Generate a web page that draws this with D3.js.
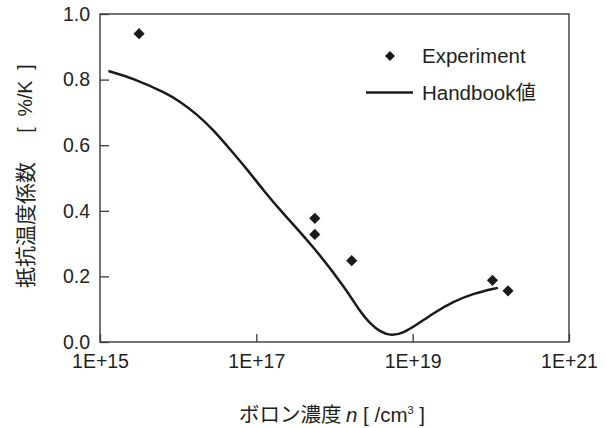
<!DOCTYPE html>
<html>
<head>
<meta charset="utf-8">
<script src="https://cdn.jsdelivr.net/npm/d3@7"></script>
<style>
  html, body { margin: 0; padding: 0; background: #fff; }
  svg { display: block; }
  text { font-family: "Liberation Sans", Arial, sans-serif; fill: #231f20; }
  .cjk { font-family: "Noto Sans CJK JP", "Liberation Sans", sans-serif; }
</style>
</head>
<body>
<svg id="chart" width="607" height="428"></svg>
<script>
// Boron concentration n [/cm^3] and temperature coefficient of resistance [%/K]
const expN   = [3.16e15, 5.6e17, 5.6e17, 1.66e18, 1.05e20, 1.66e20];
const expTCR = [0.94, 0.377, 0.328, 0.248, 0.188, 0.156];

const handbookN = [1.28e15, 2.67e15, 7.13e15, 1.05e16, 1.73e16, 2.81e16, 4.60e16,
                   7.53e16, 1.23e17, 2.01e17, 5.36e17, 1.43e18, 2.12e18, 2.84e18,
                   3.82e18, 5.40e18, 7.59e18, 1.12e19, 1.84e19, 3.31e19, 5.96e19, 1.23e20];
const handbookTCR = [0.826, 0.804, 0.758, 0.733, 0.695, 0.647, 0.588,
                     0.528, 0.463, 0.402, 0.292, 0.159, 0.092, 0.057,
                     0.031, 0.018, 0.028, 0.052, 0.088, 0.123, 0.148, 0.165];

const xTicks = [1e15, 1e17, 1e19, 1e21];
const yTicks = [0, 0.2, 0.4, 0.6, 0.8, 1.0];
const legendLabels = ["Experiment", "Handbook値"];

const svg = d3.select("#chart");
const plotL = 100, plotR = 569, plotT = 14, plotB = 342;
const ink = "#231f20";
const latin = "Liberation Sans, Arial, sans-serif";

const x = d3.scaleLog().domain([1e15, 1e21]).range([plotL, plotR]);
const y = d3.scaleLinear().domain([0, 1]).range([plotB, plotT]);

// plot frame
svg.append("rect")
  .attr("x", plotL).attr("y", plotT)
  .attr("width", plotR - plotL).attr("height", plotB - plotT)
  .attr("fill", "none").attr("stroke", "#3a3a3a").attr("stroke-width", 1.4);

// x axis with inward ticks
const xAxis = svg.append("g")
  .attr("transform", `translate(0,${plotB})`)
  .call(d3.axisBottom(x).tickValues(xTicks)
    .tickFormat(d => "1E+" + Math.round(Math.log10(d)))
    .tickSizeInner(-8).tickSizeOuter(0).tickPadding(12));
xAxis.select(".domain").remove();
xAxis.selectAll("line").attr("stroke", "#3a3a3a").attr("stroke-width", 1.3);
xAxis.selectAll("text").attr("font-size", 19.5).attr("fill", ink)
  .attr("font-family", latin);

// y axis with inward ticks
const yAxis = svg.append("g")
  .attr("transform", `translate(${plotL},0)`)
  .call(d3.axisLeft(y).tickValues(yTicks).tickFormat(d3.format(".1f"))
    .tickSizeInner(-9).tickSizeOuter(0).tickPadding(10));
yAxis.select(".domain").remove();
yAxis.selectAll("line").attr("stroke", "#3a3a3a").attr("stroke-width", 1.3);
yAxis.selectAll("text").attr("font-size", 19.5).attr("fill", ink)
  .attr("font-family", latin);

// handbook curve (smoothed through the tabulated values)
const line = d3.line()
  .x((d, i) => x(handbookN[i]))
  .y((d, i) => y(handbookTCR[i]))
  .curve(d3.curveBasis);
svg.append("path")
  .datum(handbookN)
  .attr("d", line)
  .attr("fill", "none").attr("stroke", "#1a1a1a").attr("stroke-width", 2.5)
  .attr("stroke-linejoin", "round");

// experimental points as diamonds
const diamond = d3.symbol().type(d3.symbolSquare).size(62);
svg.append("g").selectAll("path")
  .data(expN)
  .join("path")
  .attr("d", diamond)
  .attr("transform", (d, i) => `translate(${x(d)},${y(expTCR[i])}) rotate(45)`)
  .attr("fill", "#1a1a1a");

// legend
const lg = svg.append("g");
lg.append("path")
  .attr("d", d3.symbol().type(d3.symbolSquare).size(50))
  .attr("transform", "translate(390,56) rotate(45)")
  .attr("fill", "#1a1a1a");
lg.append("text").attr("x", 422).attr("y", 63).attr("font-size", 20.5)
  .style("font-family", latin).text(legendLabels[0]);
lg.append("line")
  .attr("x1", 366).attr("x2", 413).attr("y1", 92.5).attr("y2", 92.5)
  .attr("stroke", "#1a1a1a").attr("stroke-width", 2.5);
const hb = lg.append("text").attr("x", 422).attr("y", 100).attr("font-size", 20.5);
hb.append("tspan").style("font-family", latin).text(legendLabels[1].slice(0, -1));
hb.append("tspan").attr("class", "cjk").text(legendLabels[1].slice(-1));

// y axis title
svg.append("text")
  .attr("class", "cjk")
  .attr("transform", "translate(33,225) rotate(-90)")
  .attr("text-anchor", "middle").attr("font-size", 21)
  .text("抵抗温度係数");
svg.append("text")
  .attr("transform", "translate(32,98.5) rotate(-90)")
  .attr("text-anchor", "middle").attr("font-size", 19.5)
  .style("font-family", latin)
  .text("[\u00a0\u00a0%/K\u00a0\u00a0]");

// x axis title
const xt = svg.append("text")
  .attr("x", 332).attr("y", 422)
  .attr("text-anchor", "middle").attr("font-size", 20.5);
xt.append("tspan").attr("class", "cjk").text("ボロン濃度 ");
xt.append("tspan").style("font-style", "italic").style("font-family", latin).text("n");
xt.append("tspan").style("font-family", latin).text(" [ /cm");
xt.append("tspan").style("font-family", latin)
  .attr("font-size", 11).attr("dy", -8).text("3");
xt.append("tspan").style("font-family", latin).attr("dy", 8).text(" ]");
</script>
</body>
</html>
